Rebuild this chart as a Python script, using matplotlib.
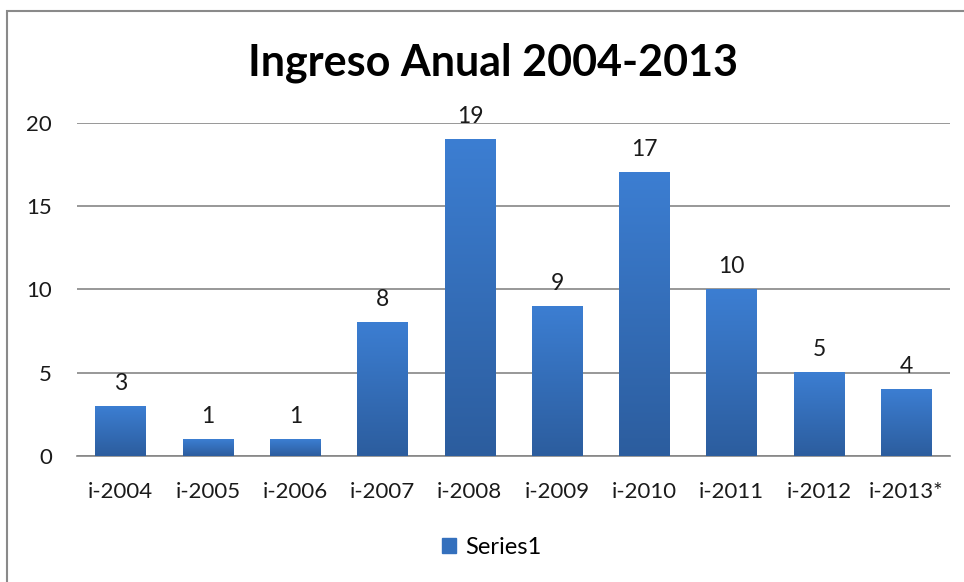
import numpy as np
import matplotlib.pyplot as plt
from matplotlib.patches import Rectangle
from matplotlib.colors import LinearSegmentedColormap

categorias = ['i-2004', 'i-2005', 'i-2006', 'i-2007', 'i-2008',
              'i-2009', 'i-2010', 'i-2011', 'i-2012', 'i-2013*']
valores = [3, 1, 1, 8, 19, 9, 17, 10, 5, 4]
yticks = [0, 5, 10, 15, 20]

plt.rcParams['font.family'] = ['Lato', 'DejaVu Sans']

fig = plt.figure(figsize=(9.64, 5.82), dpi=100)
ax = fig.add_axes([0.0799, 0.2165, 0.9056, 0.5722])

x = np.arange(len(categorias))
barras = ax.bar(x, valores, width=0.58, color='#3a73c0', zorder=2, label='Series1')

# degradado vertical en cada barra
cmap = LinearSegmentedColormap.from_list('azul', ['#2c5d9e', '#3c7ed2'])
grad = np.linspace(0, 1, 256).reshape(-1, 1)
for b in barras:
    x0, w, h = b.get_x(), b.get_width(), b.get_height()
    ax.imshow(grad, extent=[x0, x0 + w, 0, h], origin='lower', cmap=cmap,
              aspect='auto', zorder=3)
    ax.text(x0 + w / 2, h + 0.75, str(int(h)), ha='center', va='bottom',
            fontsize=16.5, color='#1a1a1a')

ax.set_xlim(-0.5, len(categorias) - 0.5)
ax.set_ylim(0, 20)
ax.set_yticks(yticks)
ax.set_xticks(x)
ax.set_xticklabels(categorias)
ax.tick_params(length=0, labelsize=16, colors='#1a1a1a', pad=19)
ax.tick_params(axis='y', pad=18)
ax.yaxis.grid(True, color='#868686', linewidth=1.2, zorder=0)
for s in ['top', 'right', 'left']:
    ax.spines[s].set_visible(False)
ax.spines['bottom'].set_color('#868686')
ax.spines['bottom'].set_linewidth(1.2)

fig.text(0.511, 0.893, 'Ingreso Anual 2004-2013', ha='center', va='center',
         fontsize=31, fontweight='bold', color='#000000')

fig.legend(handles=[Rectangle((0, 0), 1, 1, color='#3470bd')], labels=['Series1'],
           loc='center', bbox_to_anchor=(0.51, 0.06), frameon=False,
           fontsize=17, handlelength=0.6, handleheight=0.6, handletextpad=0.4)

# marco del gráfico
fig.patches.append(Rectangle((7 / 964, -0.1), 1.2, 1 - 11 / 582 + 0.1,
                             transform=fig.transFigure, fill=False,
                             edgecolor='#8a8a8a', linewidth=1.5))

fig.savefig('out.png', dpi=100)
